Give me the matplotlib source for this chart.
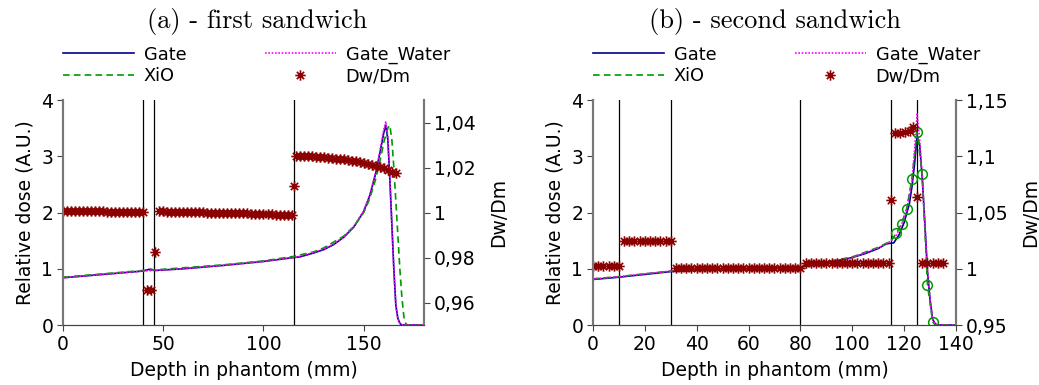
import matplotlib
matplotlib.use("Agg")
import matplotlib.pyplot as plt
from matplotlib.path import Path
from matplotlib.ticker import FuncFormatter

plt.rcParams["font.family"] = "DejaVu Sans"

# ---------- panel (a) : first sandwich ----------
a_gate_x = [0, 20, 40, 42, 43, 44, 45, 46, 60, 80, 100, 115, 118, 125, 130, 135, 140, 145, 150, 153,
            156, 158, 160, 161, 162, 163, 164, 165, 166, 167, 168, 169, 180]
a_gate_y = [0.84, 0.90, 0.96, 0.98, 0.99, 0.99, 0.98, 0.97, 1.00, 1.06, 1.13, 1.20, 1.21, 1.28, 1.34, 1.43, 1.56, 1.74, 2.02, 2.30,
            2.70, 3.05, 3.42, 3.55, 3.30, 2.60, 1.80, 1.00, 0.35, 0.12, 0.03, 0.00, 0.00]
a_water_x = [0, 20, 40, 46, 60, 80, 100, 115, 118, 125, 130, 135, 140, 145, 150, 153,
             156, 158, 160, 161, 162, 163, 164, 165, 166, 167, 168, 169, 180]
a_water_y = [0.84, 0.90, 0.96, 0.97, 1.00, 1.06, 1.13, 1.20, 1.22, 1.29, 1.35, 1.44, 1.57, 1.75, 2.03, 2.32,
             2.72, 3.08, 3.48, 3.62, 3.35, 2.62, 1.80, 1.00, 0.35, 0.12, 0.03, 0.00, 0.00]
a_xio_x = [0, 40, 46, 80, 100, 115, 125, 130, 140, 145, 150, 153, 156, 158, 160, 162, 163, 164,
           165, 166, 167, 168, 169, 170, 171, 172, 180]
a_xio_y = [0.85, 0.97, 0.98, 1.07, 1.14, 1.22, 1.30, 1.37, 1.58, 1.75, 2.00, 2.25, 2.60, 2.90, 3.25, 3.50, 3.55, 3.30,
           2.80, 2.20, 1.60, 1.00, 0.50, 0.15, 0.02, 0.00, 0.00]
a_ratio_x = [0, 2, 4, 6, 8, 10, 12, 14, 16, 18, 20, 22, 24, 26, 28, 30, 32, 34, 36, 38, 40,
             42, 44, 46,
             48, 50, 52, 54, 56, 58, 60, 62, 64, 66, 68, 70, 72, 74, 76, 78, 80, 82, 84, 86, 88, 90,
             92, 94, 96, 98, 100, 102, 104, 106, 108, 110, 112, 114,
             115,
             116, 118, 120, 122, 124, 126, 128, 130, 132, 134, 136, 138, 140, 142, 144, 146, 148, 150,
             152, 154, 156, 158, 160, 162, 164, 166]
a_ratio_y = [1.0008, 1.0008, 1.0007, 1.0007, 1.0007, 1.0006, 1.0006, 1.0006, 1.0005, 1.0005, 1.0005, 1.0004, 1.0004,
             1.0004, 1.0003, 1.0003, 1.0003, 1.0002, 1.0002, 1.0002, 1.0001,
             0.9655, 0.9655, 0.9825,
             1.0005, 1.0005, 1.0004, 1.0004, 1.0004, 1.0003, 1.0003, 1.0003, 1.0002, 1.0002, 1.0001, 1.0001, 1.0000,
             1.0000, 1.0000, 0.9999, 0.9999, 0.9998, 0.9998, 0.9997, 0.9997, 0.9996, 0.9996, 0.9995, 0.9994, 0.9994,
             0.9993, 0.9992, 0.9992, 0.9991, 0.9990, 0.9989, 0.9988, 0.9987,
             1.0118,
             1.0253, 1.0252, 1.0251, 1.0250, 1.0249, 1.0248, 1.0247, 1.0246, 1.0244, 1.0242, 1.0240, 1.0238, 1.0236,
             1.0234, 1.0231, 1.0228, 1.0225, 1.0221, 1.0217, 1.0213, 1.0208, 1.0203, 1.0197, 1.0190, 1.0182, 1.0174]
a_layers = [40, 45.5, 115]

# ---------- panel (b) : second sandwich ----------
b_gate_x = [0, 5, 10, 20, 30, 40, 60, 80, 90, 100, 105, 110, 113, 114, 116, 118, 120, 122, 123, 124,
            125, 126, 127, 128, 129, 130, 131, 132, 133, 140]
b_gate_y = [0.81, 0.83, 0.85, 0.90, 0.95, 0.97, 1.00, 1.03, 1.10, 1.20, 1.27, 1.36, 1.44, 1.45, 1.46, 1.60, 1.82, 2.15, 2.45, 2.85,
            3.35, 3.20, 2.60, 1.80, 0.95, 0.45, 0.10, 0.02, 0.00, 0.00]
b_water_x = [0, 10, 30, 80, 100, 110, 113, 115, 117, 119, 121, 123, 124, 125, 126, 127, 128, 129, 130, 131, 132, 140]
b_water_y = [0.82, 0.86, 0.96, 1.03, 1.20, 1.37, 1.44, 1.50, 1.60, 1.78, 2.05, 2.55, 3.10, 3.75, 3.30, 2.60, 1.80, 1.00,
             0.45, 0.10, 0.00, 0.00]
b_xio_x = [0, 10, 30, 80, 100, 110, 113, 115, 117, 119, 121, 123, 125, 127, 129, 131, 132, 140]
b_xio_y = [0.82, 0.86, 0.96, 1.03, 1.21, 1.38, 1.45, 1.50, 1.63, 1.80, 2.07, 2.60, 3.43, 2.68, 0.72, 0.06, 0.00, 0.00]
b_xio_pts_x = [117, 119, 121, 123, 125, 127, 129, 131]
b_xio_pts_y = [1.63, 1.80, 2.07, 2.60, 3.43, 2.68, 0.72, 0.06]
b_ratio_x = [0, 2, 4, 6, 8, 10,
             12, 14, 16, 18, 20, 22, 24, 26, 28, 30,
             32, 34, 36, 38, 40, 42, 44, 46, 48, 50, 52, 54, 56, 58, 60, 62, 64, 66, 68, 70, 72, 74, 76, 78, 80,
             82, 84, 86, 88, 90, 92, 94, 96, 98, 100, 102, 104, 106, 108, 110, 112, 114,
             115,
             116.6, 118.5, 120.5, 122.4, 123.6,
             125,
             127, 129, 131, 133, 135]
b_ratio_y = [1.0025, 1.0025, 1.0025, 1.0025, 1.0025, 1.0025,
             1.0250, 1.0250, 1.0250, 1.0250, 1.0250, 1.0250, 1.0250, 1.0250, 1.0250, 1.0250,
             1.0005, 1.0005, 1.0005, 1.0005, 1.0005, 1.0005, 1.0005, 1.0005, 1.0005, 1.0005, 1.0005, 1.0005, 1.0005,
             1.0005, 1.0005, 1.0005, 1.0005, 1.0005, 1.0005, 1.0005, 1.0005, 1.0005, 1.0005, 1.0005, 1.0005,
             1.0055, 1.0055, 1.0055, 1.0055, 1.0055, 1.0055, 1.0055, 1.0055, 1.0055, 1.0055, 1.0055, 1.0055, 1.0055,
             1.0055, 1.0055, 1.0055, 1.0055,
             1.0610,
             1.1204, 1.1210, 1.1216, 1.1224, 1.1263,
             1.0635,
             1.0055, 1.0055, 1.0055, 1.0055, 1.0055]
b_layers = [10, 30, 80, 115, 125]

# asterisk marker (plus + cross)
star = Path([(-1, 0), (1, 0), (0, -1), (0, 1), (-0.7, -0.7), (0.7, 0.7), (-0.7, 0.7), (0.7, -0.7)],
            [Path.MOVETO, Path.LINETO] * 4)

c_gate = "#00008b"
c_water = "#ff00ff"
c_xio = "#009900"
c_ratio = "#8b0000"


def comma(v, pos):
    return f"{v:g}".replace(".", ",")


def panel(rect, title, title_x, gx, gy, wx, wy, xx, xy, rx, ry, layers, xmax, xstep, rlim, rticks):
    ax = fig.add_axes(rect)
    ax2 = ax.twinx()
    for l in layers:
        ax.axvline(l, color="black", lw=0.9, zorder=1)
    h1, = ax.plot(gx, gy, color=c_gate, lw=1.2, label="Gate", zorder=3)
    h3, = ax.plot(wx, wy, color=c_water, lw=1.2, ls=(0, (1, 1)), label="Gate_Water", zorder=4)
    h2, = ax.plot(xx, xy, color=c_xio, lw=1.2, ls=(0, (4, 2.5)), label="XiO", zorder=3)
    h4, = ax2.plot(rx, ry, ls="none", marker=star, ms=7.5, mec=c_ratio, mfc="none", mew=1.2, label="Dw/Dm")
    ax.set_xlim(0, xmax)
    ax.set_ylim(0, 4)
    ax.set_xticks(range(0, xmax + 1, xstep))
    ax.set_yticks([0, 1, 2, 3, 4])
    ax2.set_ylim(*rlim)
    ax2.set_yticks(rticks)
    ax2.yaxis.set_major_formatter(FuncFormatter(comma))
    for a in (ax, ax2):
        a.spines["top"].set_visible(False)
        a.spines["left"].set_color("#777777")
        a.spines["right"].set_color("#777777")
        a.spines["left"].set_linewidth(1.5)
        a.spines["right"].set_linewidth(1.5)
        a.spines["bottom"].set_color("#444444")
        a.tick_params(direction="out", length=4, color="#444444", labelsize=13.5, pad=3)
    ax.set_xlabel("Depth in phantom (mm)", fontsize=13.5, labelpad=5)
    ax.set_ylabel("Relative dose (A.U.)", fontsize=13.5, labelpad=5)
    ax2.set_ylabel("Dw/Dm", fontsize=13.5, labelpad=10)
    ax.legend([h1, h2, h3, h4], ["Gate", "XiO", "Gate_Water", "Dw/Dm"], ncol=2, frameon=False,
              loc="lower left", bbox_to_anchor=(0, 1.065), borderaxespad=0, borderpad=0,
              handlelength=4.0, handletextpad=0.55, columnspacing=4.4, labelspacing=0.2,
              fontsize=12.8, numpoints=1)
    fig.text(title_x, 0.945, title, ha="center", va="center", fontsize=19, fontname="cmr10")
    return ax, ax2


fig = plt.figure(figsize=(10.39, 3.85), dpi=100)
panel([0.0606, 0.1558, 0.3474, 0.5844], "(a) - first sandwich", 0.247,
      a_gate_x, a_gate_y, a_water_x, a_water_y, a_xio_x, a_xio_y, a_ratio_x, a_ratio_y,
      a_layers, 180, 50, (0.95, 1.05), [0.96, 0.98, 1.0, 1.02, 1.04])
axb, axb2 = panel([0.5707, 0.1558, 0.3494, 0.5844], "(b) - second sandwich", 0.746,
                  b_gate_x, b_gate_y, b_water_x, b_water_y, b_xio_x, b_xio_y, b_ratio_x, b_ratio_y,
                  b_layers, 140, 20, (0.95, 1.15), [0.95, 1.0, 1.05, 1.1, 1.15])
axb.plot(b_xio_pts_x, b_xio_pts_y, ls="none", marker="o", ms=7, mfc="none", mec=c_xio, mew=1.1, zorder=5)

fig.savefig("out.png", dpi=100)
